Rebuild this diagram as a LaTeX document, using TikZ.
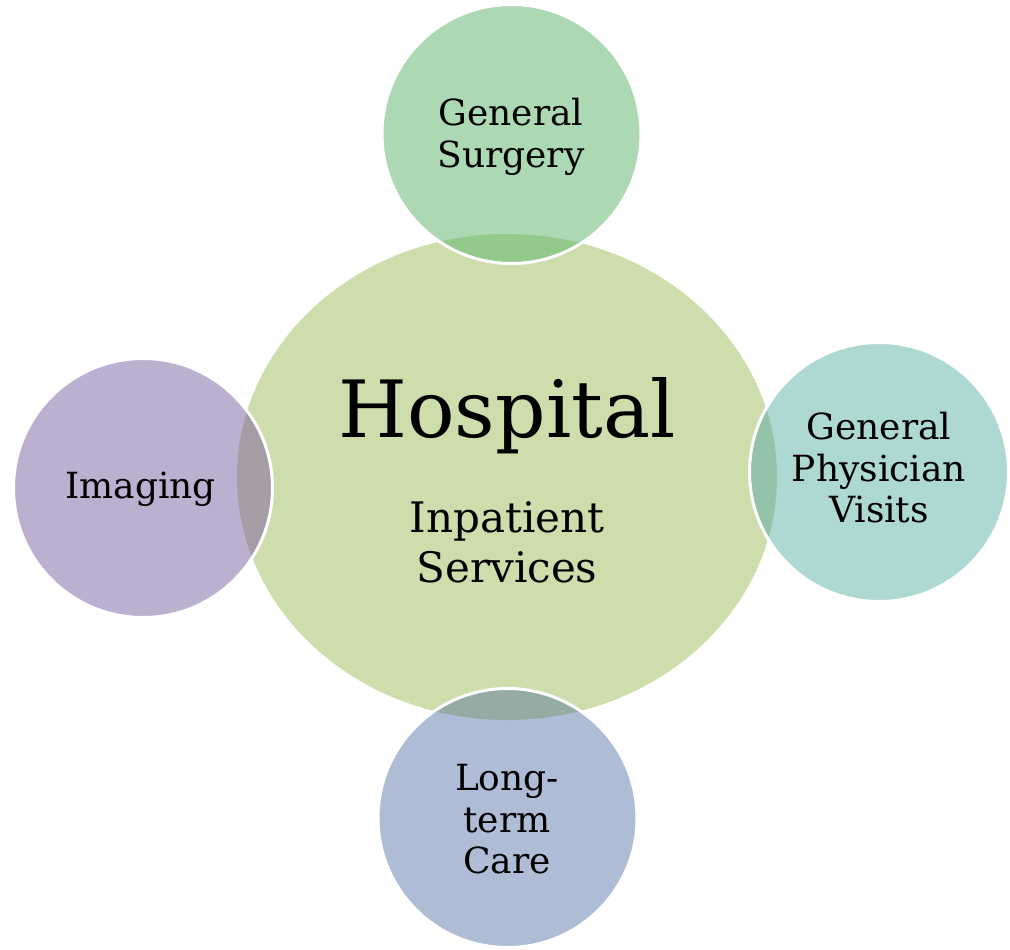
\documentclass[tikz,border=0pt]{standalone}
\usepackage{fontspec}
\setmainfont{DejaVu Serif}
\usetikzlibrary{shapes.geometric}
\definecolor{hubc}{HTML}{CEDDAC}
\definecolor{topc}{HTML}{ACD9B3}
\definecolor{topo}{HTML}{93C98A}
\definecolor{leftc}{HTML}{BCB0D0}
\definecolor{lefto}{HTML}{A59CA6}
\definecolor{rightc}{HTML}{AED8D2}
\definecolor{righto}{HTML}{93C4AA}
\definecolor{botc}{HTML}{AFBCD5}
\definecolor{boto}{HTML}{95ABA4}
\tikzset{
  hubshape/.style={ellipse, minimum width=540pt, minimum height=486pt, inner sep=0pt, fill=hubc},
  sat/.style={circle, minimum size=259pt, inner sep=0pt},
  satring/.style={draw=white, line width=3pt},
  lbl/.style={align=center, text=black, font=\fontsize{36}{41.5}\selectfont, inner sep=0pt},
}
\begin{document}
\begin{tikzpicture}[x=1pt,y=-1pt]
\useasboundingbox (0,0) rectangle (1010,950);
\node[hubshape] (hub) at (507,477) {};
% satellites
\node[sat, fill=topc] (top) at (511.5,134) {};
\node[sat, fill=leftc] (left) at (143,488) {};
\node[sat, fill=rightc] (right) at (879,472) {};
\node[sat, fill=botc] (bot) at (507.5,818) {};
% overlaps
\begin{scope}
  \clip (top.center) circle (129.5pt);
  \fill[topo] (hub.center) ellipse (270pt and 243pt);
\end{scope}
\begin{scope}
  \clip (left.center) circle (129.5pt);
  \fill[lefto] (hub.center) ellipse (270pt and 243pt);
\end{scope}
\begin{scope}
  \clip (right.center) circle (129.5pt);
  \fill[righto] (hub.center) ellipse (270pt and 243pt);
\end{scope}
\begin{scope}
  \clip (bot.center) circle (129.5pt);
  \fill[boto] (hub.center) ellipse (270pt and 243pt);
\end{scope}
\draw[satring] (top.center) circle (129.5pt);
\draw[satring] (left.center) circle (129.5pt);
\draw[satring] (right.center) circle (129.5pt);
\draw[satring] (bot.center) circle (129.5pt);
% labels
\node[anchor=base, font=\fontsize{79}{84}\selectfont, inner sep=0pt] (hosp) at (507,437) {Hospital};
\node[lbl, font=\fontsize{42}{50}\selectfont] (inp) at (507,542) {Inpatient\\Services};
\node[lbl] (ltop) at (511,137) {General\\Surgery};
\node[lbl, anchor=base] (lleft) at (140.5,498) {Imaging};
\node[lbl] (lright) at (879,468) {General\\Physician\\Visits};
\node[lbl] (lbot) at (507,819.5) {Long-\\term\\Care};
\end{tikzpicture}
\end{document}
